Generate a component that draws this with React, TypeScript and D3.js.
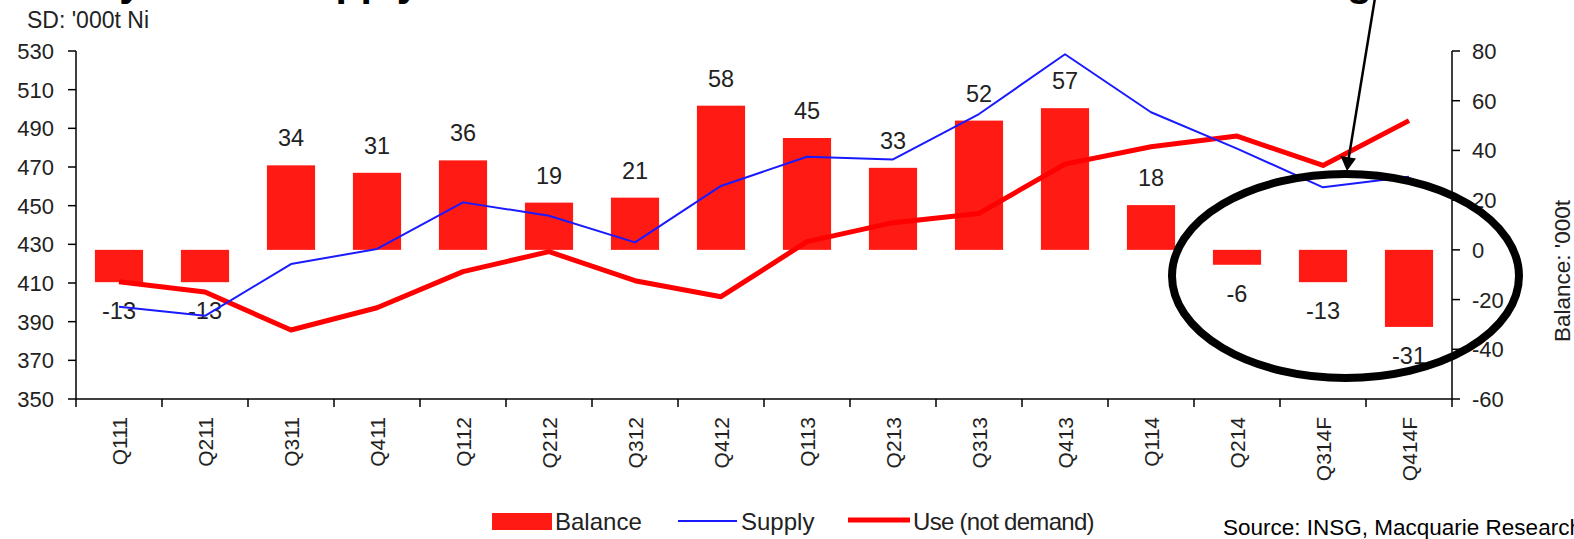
import React from "react";
import * as d3 from "d3";

const categories = ["Q111", "Q211", "Q311", "Q411", "Q112", "Q212", "Q312", "Q412", "Q113", "Q213", "Q313", "Q413", "Q114", "Q214", "Q314F", "Q414F"];
const balance = [-13, -13, 34, 31, 36, 19, 21, 58, 45, 33, 52, 57, 18, -6, -13, -31];
const supply = [397.7, 393, 419.8, 427.6, 451.7, 444.8, 431, 460.2, 475.3, 473.9, 497.4, 528.3, 498.3, 479.5, 459.5, 465];
const useNotDemand = [410.7, 405.3, 385.7, 397.2, 415.9, 426.2, 411.2, 402.9, 431.4, 441.2, 446, 471.5, 480.5, 486, 470.8, 494];
const leftTicks = [350, 370, 390, 410, 430, 450, 470, 490, 510, 530];
const rightTicks = [-60, -40, -20, 0, 20, 40, 60, 80];

const W = 1574;
const H = 539;
const FONT = "'Liberation Sans', Arial, sans-serif";
const TXT = "#222";
const BAR = "#ff1a14";

export default function App() {
  const plotL = 76, plotR = 1452, plotT = 51, plotB = 399;
  const x = d3.scaleBand<string>().domain(categories).range([plotL, plotR]).paddingInner(0.44).paddingOuter(0.22);
  const yL = d3.scaleLinear().domain([350, 530]).range([plotB, plotT]);
  const yR = d3.scaleLinear().domain([-60, 80]).range([plotB, plotT]);
  const bw = x.bandwidth();
  const cx = (c: string) => (x(c) as number) + bw / 2;
  const step = x.step();

  const lineL = d3.line<number>().x((_, i) => cx(categories[i])).y((v) => yL(v));
  const boundaries = d3.range(categories.length + 1).map((i) => plotL + i * step);

  const ell = { cx: 1345.5, cy: 276, rx: 173.5, ry: 102 };

  return (
    <svg width={W} height={H} style={{ position: "absolute", left: 0, top: 0, background: "#fff" }} fontFamily={FONT}>
      {/* clipped title */}
      <g fontWeight="bold" fontSize={41} fill="#000">
        <text x={142} y={-4} textAnchor="end">Nickel: Early</text>
        <text x={283} y={-4}>Supply to fall short of use in 2014</text>
        <text x={1372} y={-4} textAnchor="end">deficit now looming</text>
      </g>
      <text x={27} y={28} fontSize={23} fill={TXT}>SD: '000t Ni</text>

      {/* bars */}
      {categories.map((c, i) => {
        const v = balance[i];
        const y0 = yR(0), y1 = yR(v);
        return <rect key={c} x={x(c)} y={Math.min(y0, y1)} width={bw} height={Math.abs(y1 - y0)} fill={BAR} />;
      })}
      {/* bar labels */}
      {categories.map((c, i) => {
        const v = balance[i];
        const y = v >= 0 ? yR(v) - 19 : yR(v) + 37;
        return (
          <text key={c} x={cx(c)} y={y} fontSize={23.5} fill={TXT} textAnchor="middle">{v}</text>
        );
      })}

      {/* lines */}
      <path d={lineL(useNotDemand) || ""} fill="none" stroke="#ff0000" strokeWidth={5} strokeLinejoin="round" />
      <path d={lineL(supply) || ""} fill="none" stroke="#1a1aff" strokeWidth={2} strokeLinejoin="round" />

      {/* left axis */}
      <line x1={plotL} x2={plotL} y1={plotT} y2={plotB} stroke="#000" strokeWidth={1.5} />
      {leftTicks.map((t) => (
        <g key={t}>
          <line x1={plotL - 8} x2={plotL} y1={yL(t)} y2={yL(t)} stroke="#000" strokeWidth={1.5} />
          <text x={54} y={yL(t) + 8} fontSize={22} fill={TXT} textAnchor="end">{t}</text>
        </g>
      ))}
      {/* right axis */}
      <line x1={plotR} x2={plotR} y1={plotT} y2={plotB} stroke="#000" strokeWidth={1.5} />
      {rightTicks.map((t) => (
        <g key={t}>
          <line x1={plotR} x2={plotR + 8} y1={yR(t)} y2={yR(t)} stroke="#000" strokeWidth={1.5} />
          <text x={1472} y={yR(t) + 8} fontSize={22} fill={TXT}>{t}</text>
        </g>
      ))}
      <text transform={`translate(1570,271) rotate(-90)`} fontSize={22.5} fill={TXT} textAnchor="middle">Balance: '000t</text>

      {/* x axis */}
      <line x1={plotL} x2={plotR} y1={plotB} y2={plotB} stroke="#000" strokeWidth={1.5} />
      {boundaries.map((b, i) => (
        <line key={i} x1={b} x2={b} y1={plotB} y2={plotB + 8} stroke="#000" strokeWidth={1.5} />
      ))}
      {categories.map((c) => (
        <text key={c} transform={`translate(${cx(c) + 7.5},417) rotate(-90)`} fontSize={21} fill={TXT} textAnchor="end">{c}</text>
      ))}

      {/* legend */}
      <rect x={492} y={513} width={60} height={17} fill={BAR} />
      <text x={555} y={530} fontSize={24} fill={TXT}>Balance</text>
      <line x1={678} x2={737} y1={521} y2={521} stroke="#1a1aff" strokeWidth={2} />
      <text x={741} y={530} fontSize={24} fill={TXT}>Supply</text>
      <line x1={848} x2={910} y1={520} y2={520} stroke="#ff0000" strokeWidth={5} />
      <text x={913} y={530} fontSize={24} fill={TXT} letterSpacing={-0.7}>Use (not demand)</text>

      <text x={1223} y={535} fontSize={22.5} fill="#000">Source: INSG, Macquarie Research</text>

      {/* annotation */}
      <ellipse cx={ell.cx} cy={ell.cy} rx={ell.rx} ry={ell.ry} fill="none" stroke="#000" strokeWidth={8} />
      <line x1={1375} y1={-2} x2={1348.7} y2={158} stroke="#000" strokeWidth={2.5} />
      <path d="M1340.5,156 L1356,158.5 L1347,171 Z" fill="#000" />
    </svg>
  );
}
